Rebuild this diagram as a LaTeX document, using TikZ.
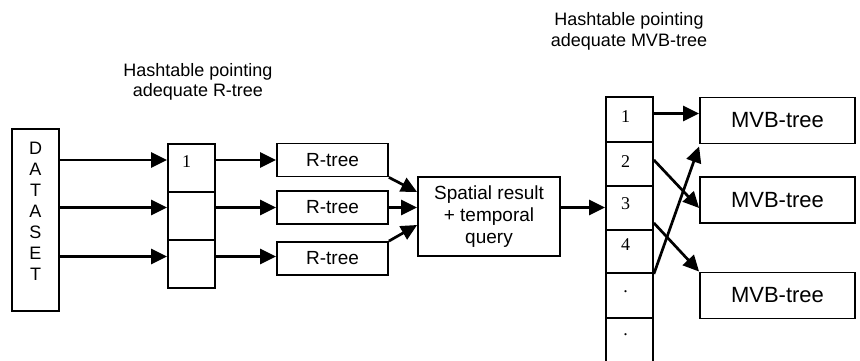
\documentclass[tikz,border=0pt]{standalone}
\usepackage{fontspec}
\setmainfont{Liberation Sans}
\newfontfamily\serifnum{Liberation Serif}
\usetikzlibrary{arrows.meta,calc}
\begin{document}
\begin{tikzpicture}[x=1pt,y=-1pt,
  box/.style={draw,line width=1.8pt,inner sep=0pt},
  cell/.style={box,minimum width=47pt},
  rtree/.style={box,minimum width=111pt,minimum height=33pt,font=\fontsize{19}{21}\selectfont},
  mvb/.style={box,minimum width=155pt,minimum height=46pt,font=\fontsize{22}{24}\selectfont},
  arr/.style={line width=2.7pt,-{Triangle[length=16pt,width=15pt]}},
  num/.style={font=\serifnum\fontsize{18}{20}\selectfont,inner sep=0pt},
  lbl/.style={font=\fontsize{18}{20.5}\selectfont,align=center,inner sep=0pt},
  ]
\useasboundingbox (0,0) rectangle (860,361);

% titles
\node[lbl] (t1) at (198,82) {Hashtable pointing\\adequate R-tree};
\node[lbl] (t2) at (629,31.5) {Hashtable pointing\\adequate MVB-tree};

% dataset
\node[box,minimum width=47pt,minimum height=182pt] (ds) at (35.5,220) {};
\node[font=\fontsize{18}{21}\selectfont,align=center,inner sep=0pt] (dst) at (35.5,211)
  {D\\A\\T\\A\\S\\E\\T};

% first hashtable
\node[cell,minimum height=48pt] (h1a) at (191.5,168) {};
\node[cell,minimum height=48pt] (h1b) at (191.5,216) {};
\node[cell,minimum height=48pt] (h1c) at (191.5,264) {};
\node[num] (n1) at (186.5,162) {1};

% R-trees
\node[rtree] (rt1) at (332.5,160) {R-tree};
\node[rtree] (rt2) at (332.5,207.5) {R-tree};
\node[rtree] (rt3) at (332.5,258.5) {R-tree};

% spatial
\node[box,minimum width=142pt,minimum height=79pt,align=center,
      font=\fontsize{19}{22}\selectfont] (sp) at (489,216.5)
  {Spatial result\\+ temporal\\query};

% second hashtable
\node[cell,minimum height=45pt] (h2a) at (629.5,119.5) {};
\node[cell,minimum height=44pt] (h2b) at (629.5,164) {};
\node[cell,minimum height=44pt] (h2c) at (629.5,208) {};
\node[cell,minimum height=43pt] (h2d) at (629.5,251.5) {};
\node[cell,minimum height=45pt] (h2e) at (629.5,295.5) {};
\node[cell,minimum height=56pt] (h2f) at (629.5,346) {};
\node[num] (m1n) at (625.5,117) {1};
\node[num] (m2n) at (625.5,162) {2};
\node[num] (m3n) at (625.5,203.5) {3};
\node[num] (m4n) at (625.5,245) {4};
\node[num] (m5n) at (625.5,292) {.};
\node[num] (m6n) at (625.5,335) {.};

% MVB-trees
\node[mvb] (mv1) at (777.5,120.5) {MVB-tree};
\node[mvb] (mv2) at (777.5,200) {MVB-tree};
\node[mvb] (mv3) at (777.5,295.5) {MVB-tree};

% arrows dataset -> hashtable
\draw[arr] (ds.east |- rt1) -- (h1a.west |- rt1);
\draw[arr] (ds.east |- rt2) -- (h1b.west |- rt2);
\draw[arr] (ds.east |- rt3) ++(0,-2) coordinate (d3) -- (h1c.west |- d3);

% hashtable -> R-trees
\draw[arr] (h1a.east |- rt1) -- (rt1.west);
\draw[arr] (h1b.east |- rt2) -- (rt2.west);
\draw[arr] (h1c.east |- d3) -- (rt3.west |- d3);

% R-trees -> spatial
\draw[arr] (rt1.south east) -- ($(sp.west)+(0,-24.5)$);
\draw[arr] (rt2.east) -- (sp.west |- rt2.east);
\draw[arr] (rt3.north east) -- ($(sp.west)+(0,8.5)$);

% spatial -> hashtable 2
\draw[arr] (sp.east |- rt2) -- (h2c.west |- rt2);

% hashtable 2 -> MVB-trees
\draw[arr] ($(h2a.east)+(0,-6)$) -- ($(mv1.west)+(0,-7)$);
\draw[arr] ($(h2b.east)+(0,-4)$) -- ($(mv2.west)+(0,8)$);
\draw[arr] ($(h2c.east)+(0,15)$) -- (mv3.north west);
\draw[arr] (h2d.south east) -- ($(mv1.south west)+(0,2)$);
\end{tikzpicture}
\end{document}
